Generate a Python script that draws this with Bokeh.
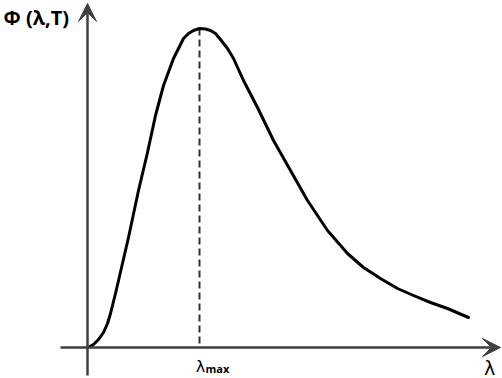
from bokeh.plotting import figure
from bokeh.models import Range1d, Arrow, VeeHead, Label
from bokeh.embed import file_html
from bokeh.resources import INLINE

# Spectral curve (arbitrary units, origin at the axes' crossing)
lam = [0, 6, 11, 16, 20, 23, 28, 41, 51, 60, 68, 76, 86, 96, 101, 106, 112, 118, 123,
       128, 133, 140, 146, 156, 170, 186, 203, 220, 240, 260, 276, 293, 310, 326, 343,
       360, 381]
phi = [0, 3, 8, 15, 24, 34, 54, 110, 157, 195, 232, 262, 289, 309, 314, 317, 319,
       318.5, 317, 314, 308, 299, 289, 267, 240, 207, 177, 147, 117, 94, 80, 69, 59,
       52, 45, 39, 30]

lam_max = 112
phi_max = 319

y_label = "Φ (λ,T)"
x_label = "λ"
peak_label = "λ"
peak_sub = "max"

AX = "#404040"

p = figure(width=502, height=378, output_backend="svg", toolbar_location=None,
           x_range=Range1d(-87, 415), y_range=Range1d(-31, 347), min_border=0)
p.axis.visible = False
p.grid.visible = False
p.title.visible = False
p.outline_line_color = None

# axes with arrow heads
p.add_layout(Arrow(x_start=-27, y_start=0, x_end=413, y_end=0, line_color=AX, line_width=2.5,
                   end=VeeHead(size=18, fill_color=AX, line_color=AX)))
p.add_layout(Arrow(x_start=0, y_start=-28, x_end=0, y_end=344, line_color=AX, line_width=2.5,
                   end=VeeHead(size=18, fill_color=AX, line_color=AX)))

# dashed line at the peak
p.segment(x0=[lam_max], y0=[phi_max], x1=[lam_max], y1=[0], line_color="#303030",
          line_width=2, line_dash="7 4")

# curve
p.line(lam, phi, line_color="black", line_width=3, line_join="round", line_cap="round")

p.add_layout(Label(x=-84, y=330, text=y_label, text_font="Open Sans", text_font_style="bold",
                   text_font_size="20px", text_baseline="middle", text_align="left",
                   text_color="black"))
p.add_layout(Label(x=402, y=-20, text=x_label, text_font="DejaVu Sans",
                   text_font_size="19px", text_baseline="middle", text_align="center",
                   text_color="black"))
p.add_layout(Label(x=113, y=-19, text=peak_label, text_font="DejaVu Sans",
                   text_font_size="16px", text_baseline="middle", text_align="center",
                   text_color="black"))
p.add_layout(Label(x=118, y=-21, text=peak_sub, text_font="Open Sans", text_font_style="bold",
                   text_font_size="11px", text_baseline="middle", text_align="left",
                   text_color="black"))

open("out.html", "w").write(file_html(p, INLINE))
